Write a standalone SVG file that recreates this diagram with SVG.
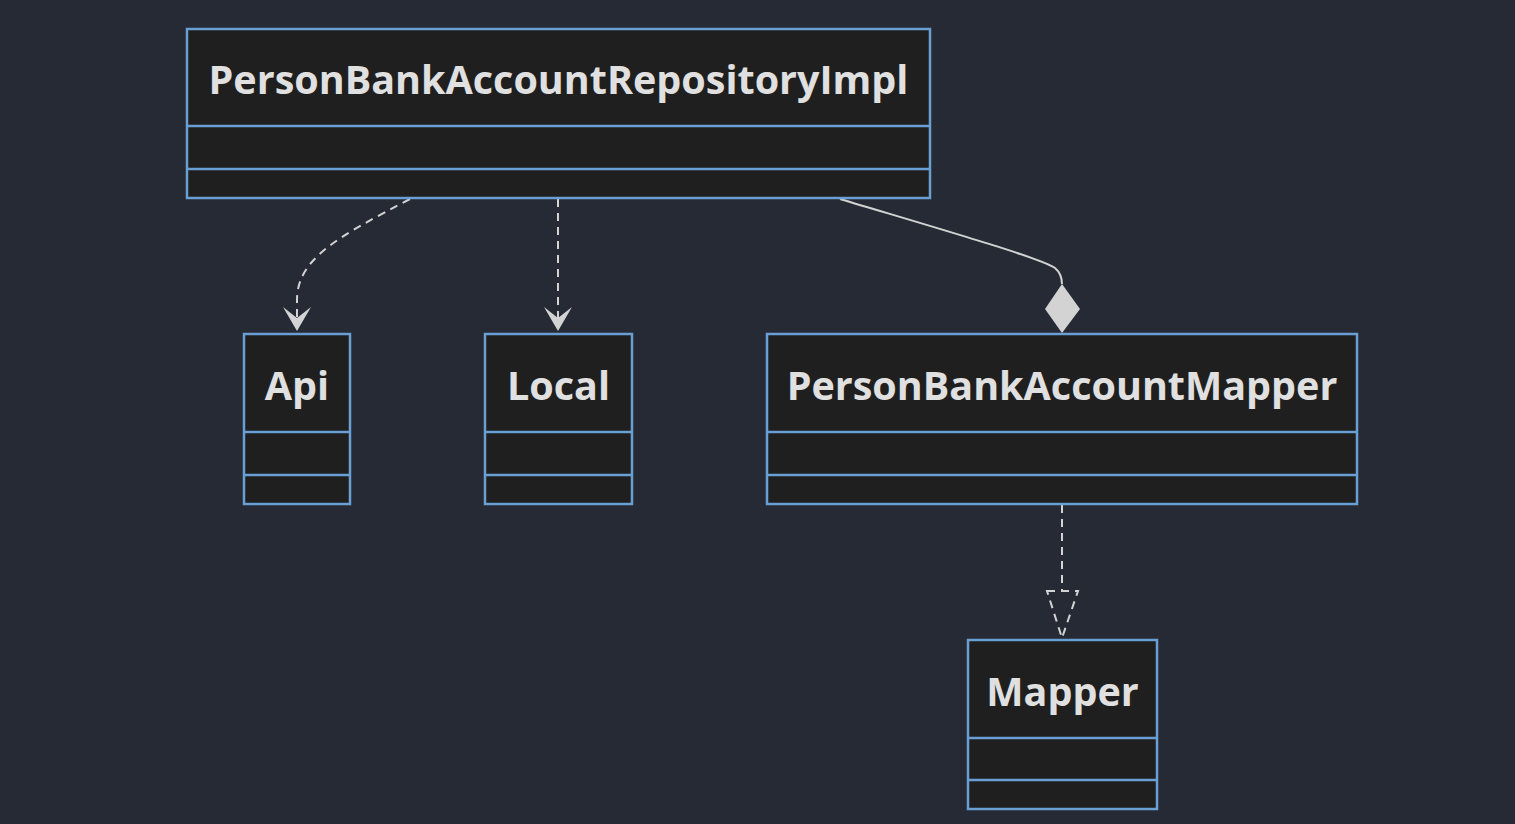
<svg xmlns="http://www.w3.org/2000/svg" width="1515" height="824" viewBox="0 0 1515 824">
<defs>
<style>
.box{fill:#1f1f1f;stroke:#6a9fd4;stroke-width:2.5}
.div{stroke:#6a9fd4;stroke-width:2.5}
.t{font-family:"Open Sans","DejaVu Sans",sans-serif;font-weight:bold;font-size:39.5px;fill:#e0e0e0;text-anchor:middle}
.e{fill:none;stroke:#d3d3d3;stroke-width:2}
.d{stroke-dasharray:8 6}
</style>
</defs>
<rect width="1515" height="824" fill="#262a35"/>
<g id="edges">
<path class="e d" d="M410,199 C340,236 297,258 297,300 L297,318"/>
<path d="M283,307 L297,318 L311,307 L297,331 Z" fill="#d3d3d3"/>
<path class="e d" d="M558,199 L558,318"/>
<path d="M544,307 L558,318 L572,307 L558,331 Z" fill="#d3d3d3"/>
<path class="e" d="M840,199 C960,235 1040,258 1055,268 Q1062,274 1062,284"/>
<path d="M1062,284 L1080,309 L1062,333 L1045,309 Z" fill="#d3d3d3"/>
<path class="e d" d="M1062,505 L1062,590"/>
<path class="e d" d="M1047,591 L1078,591 L1062,638 Z"/>
</g>
<g id="PersonBankAccountRepositoryImpl">
<rect class="box" x="187" y="29" width="743" height="169"/>
<line class="div" x1="187" y1="126" x2="930" y2="126"/>
<line class="div" x1="187" y1="169" x2="930" y2="169"/>
<text class="t" x="558.5" y="94">PersonBankAccountRepositoryImpl</text>
</g>
<g id="Api">
<rect class="box" x="244" y="334" width="106" height="170"/>
<line class="div" x1="244" y1="432" x2="350" y2="432"/>
<line class="div" x1="244" y1="475" x2="350" y2="475"/>
<text class="t" x="297" y="400">Api</text>
</g>
<g id="Local">
<rect class="box" x="485" y="334" width="147" height="170"/>
<line class="div" x1="485" y1="432" x2="632" y2="432"/>
<line class="div" x1="485" y1="475" x2="632" y2="475"/>
<text class="t" x="558.5" y="400">Local</text>
</g>
<g id="PersonBankAccountMapper">
<rect class="box" x="767" y="334" width="590" height="170"/>
<line class="div" x1="767" y1="432" x2="1357" y2="432"/>
<line class="div" x1="767" y1="475" x2="1357" y2="475"/>
<text class="t" x="1062" y="400">PersonBankAccountMapper</text>
</g>
<g id="Mapper">
<rect class="box" x="968" y="640" width="189" height="169"/>
<line class="div" x1="968" y1="738" x2="1157" y2="738"/>
<line class="div" x1="968" y1="780" x2="1157" y2="780"/>
<text class="t" x="1062.5" y="706">Mapper</text>
</g>
</svg>
